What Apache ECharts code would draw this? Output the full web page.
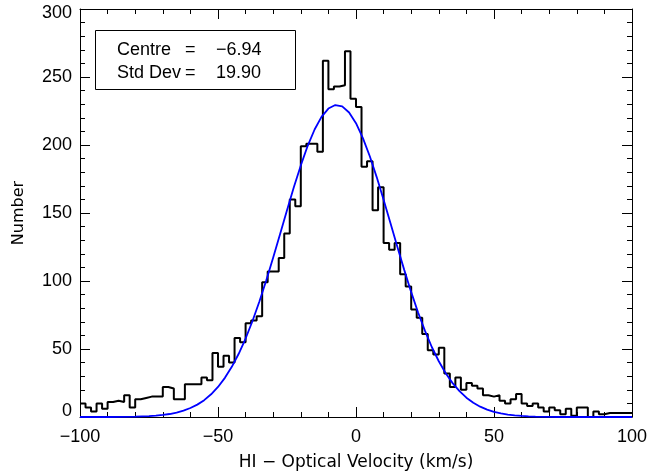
<!DOCTYPE html>
<html>
<head>
<meta charset="utf-8">
<script src="https://cdn.jsdelivr.net/npm/echarts@6/dist/echarts.min.js"></script>
<style>
html,body{margin:0;padding:0;background:#fff;}
#chart{width:661px;height:473px;}
</style>
</head>
<body>
<div id="chart"></div>
<script>
// Histogram: bins of 2 km/s starting at -100
var binStart = -100;
var binWidth = 2;
var counts = [
  10, 7, 4, 10, 6, 11, 12, 11, 16, 7,
  13, 14, 15, 15, 15, 22, 21, 13, 13, 24,
  24, 24, 29, 27, 47, 37, 45, 40, 58, 55,
  69, 71, 74, 99, 107, 107, 117, 135, 160, 155,
  199, 201, 201, 195, 262, 241, 243, 244, 269, 234,
  228, 184, 188, 152, 169, 128, 123, 128, 105, 96,
  79, 73, 61, 49, 46, 51, 32, 22, 29, 20,
  25, 23, 21, 16, 15, 16, 12, 10, 13, 17,
  10, 8, 10, 7, 4, 7, 5, 2, 6, 1,
  7, 7, 0, 4, 2, 3, 3, 3, 3, 3
];
// Fitted curve
var curveX = [-100,-95,-90,-85,-80,-75,-72.5,-70,-67.5,-65,-62.5,-60,-57.5,-55,-52.5,-50,-47.5,-45,-42.5,-40,-37.5,-35,-32.5,-30,-27.5,-25,-22.5,-20,-17.5,-15,-12.5,-10,-7.5,-5,-2.5,0,2.5,5,7.5,10,12.5,15,17.5,20,22.5,25,27.5,30,32.5,35,37.5,40,42.5,45,47.5,50,52.5,55,57.5,60,62.5,65,70,75,80,85,90,95,100];
var curveY = [0,0,0,0.1,0.3,0.7,1.0,1.5,2.2,3.3,4.7,6.6,9.1,12.4,16.7,22.1,28.8,36.9,46.5,57.7,70.6,84.9,100.6,117.3,134.6,152.0,169.1,185.0,199.4,211.4,220.7,226.8,229.4,228.4,223.9,216.0,205.1,191.7,176.4,159.8,142.4,125.0,108.0,91.8,76.8,63.3,51.3,41.0,32.2,24.9,19.0,14.2,10.5,7.6,5.4,3.8,2.7,1.8,1.2,0.8,0.5,0.3,0.1,0,0,0,0,0,0];
var xTicks = [-100, -50, 0, 50, 100];
var yTicks = [0, 50, 100, 150, 200, 250, 300];
var legendLines = [["Centre", "=", "\u22126.94"], ["Std Dev", "=", "19.90"]];

var histData = counts.map(function (c, i) { return [binStart + i * binWidth, c]; });
histData.push([binStart + counts.length * binWidth, counts[counts.length - 1]]);
var curveData = curveX.map(function (x, i) { return [x, curveY[i]]; });

var fmtX = function (v) { return (v < 0 ? '\u2212' : '') + Math.abs(v); };
var fmtY = function (v) {
  if (v === yTicks[0]) return '{z|' + v + '}';
  if (v === yTicks[yTicks.length - 1]) return '{t|' + v + '}';
  return String(v);
};
var legendText = legendLines.map(function (l) {
  return '{l|' + l[0] + '}{e|' + l[1] + '}{v|' + l[2] + '}';
}).join('\n');

var tickFont = 'Liberation Sans';
var axisCommon = {
  axisLine: { show: true, onZero: false, lineStyle: { color: '#000', width: 1 } },
  axisTick: { show: true, inside: true, length: 10, lineStyle: { color: '#000', width: 1 } },
  minorTick: { show: true, splitNumber: 5, length: 5, lineStyle: { color: '#000', width: 1 } },
  splitLine: { show: false },
  minorSplitLine: { show: false }
};
function mk(base, extra) { return Object.assign({}, JSON.parse(JSON.stringify(base)), extra); }

var chart = echarts.init(document.getElementById('chart'), null, { renderer: 'canvas' });
chart.setOption({
  animation: false,
  backgroundColor: '#fff',
  grid: { left: 80, right: 29, top: 9, bottom: 56, containLabel: false, outerBoundsMode: 'none' },
  title: {
    text: legendText,
    left: 95, top: 30,
    borderColor: '#000', borderWidth: 1,
    padding: [8, 19, 5, 22],
    textStyle: {
      fontFamily: tickFont, fontSize: 18, fontWeight: 'normal', color: '#000', lineHeight: 23.5,
      rich: {
        l: { fontFamily: tickFont, fontSize: 18, width: 68, lineHeight: 23.5, color: '#000' },
        e: { fontFamily: tickFont, fontSize: 18, width: 31, lineHeight: 23.5, color: '#000' },
        v: { fontFamily: tickFont, fontSize: 18, width: 61, lineHeight: 23.5, color: '#000' }
      }
    }
  },
  xAxis: [
    mk(axisCommon, {
      type: 'value', min: -100, max: 100, interval: 50, position: 'bottom',
      name: 'HI \u2212 Optical Velocity (km/s)', nameLocation: 'middle', nameGap: 37,
      nameTextStyle: { fontFamily: 'DejaVu Sans', fontSize: 17, color: '#000' },
      axisLabel: { formatter: fmtX, margin: 11, fontFamily: tickFont, fontSize: 18, color: '#000' }
    }),
    mk(axisCommon, {
      type: 'value', min: -100, max: 100, interval: 50, position: 'top',
      axisLabel: { show: false }
    })
  ],
  yAxis: [
    mk(axisCommon, {
      type: 'value', min: 0, max: 300, interval: 50, position: 'left',
      name: 'Number', nameLocation: 'middle', nameGap: 53, nameRotate: 90,
      nameTextStyle: { fontFamily: 'DejaVu Sans', fontSize: 16, color: '#000' },
      axisLabel: {
        formatter: fmtY, margin: 8, fontFamily: tickFont, fontSize: 18, color: '#000',
        rich: {
          z: { fontFamily: tickFont, fontSize: 18, color: '#000', padding: [0, 0, 12, 0] },
          t: { fontFamily: tickFont, fontSize: 18, color: '#000', padding: [8, 0, 0, 0] }
        }
      }
    }),
    mk(axisCommon, {
      type: 'value', min: 0, max: 300, interval: 50, position: 'right',
      axisLabel: { show: false }
    })
  ],
  series: [
    {
      type: 'line', xAxisIndex: 0, yAxisIndex: 0,
      data: histData, step: 'end', showSymbol: false, symbol: 'none',
      lineStyle: { color: '#000', width: 2 }, clip: true, z: 2
    },
    {
      type: 'line', xAxisIndex: 0, yAxisIndex: 0,
      data: curveData, smooth: false, showSymbol: false, symbol: 'none',
      lineStyle: { color: '#0000ff', width: 1.8 }, clip: true, z: 3
    }
  ]
});
</script>
</body>
</html>
